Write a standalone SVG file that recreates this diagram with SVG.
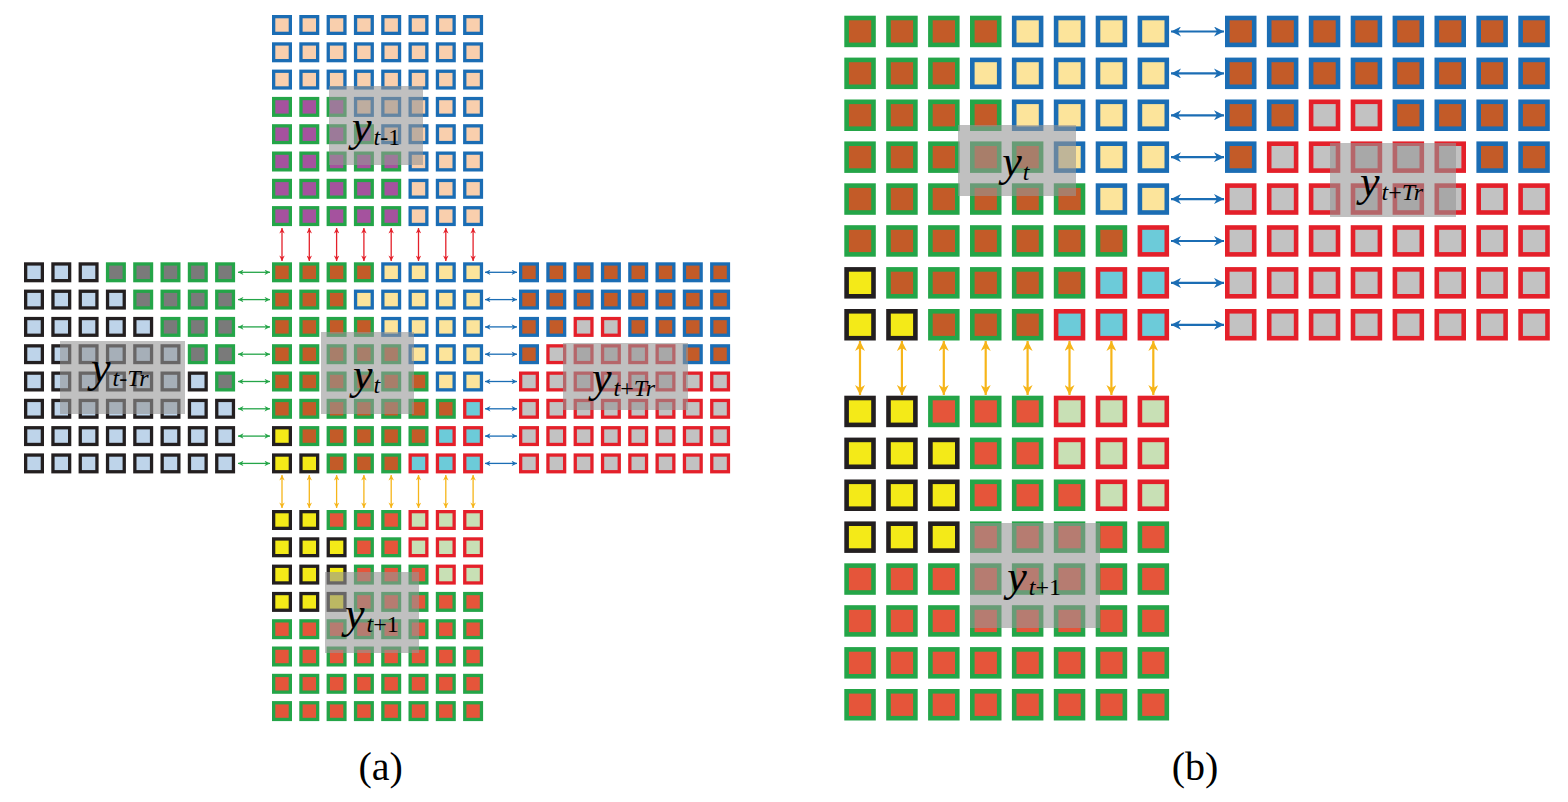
<svg xmlns="http://www.w3.org/2000/svg" xmlns:xlink="http://www.w3.org/1999/xlink" width="1568" height="802" viewBox="0 0 1568 802">
<style>
.Q{fill:#f9cfad;stroke:#1b6db4}
.P{fill:#a5529e;stroke:#24a548}
.G{fill:#c35b28;stroke:#24a548}
.B{fill:#fce49b;stroke:#1b6db4}
.R{fill:#6ccbd9;stroke:#e4202a}
.K{fill:#f4ea18;stroke:#231f20}
.E{fill:#e5553a;stroke:#24a548}
.V{fill:#c8e0b5;stroke:#e4202a}
.L{fill:#bed4ea;stroke:#231f20}
.M{fill:#7a7a7a;stroke:#24a548}
.O{fill:#c35b28;stroke:#1b6db4}
.S{fill:#c2c2c2;stroke:#e4202a}
.ov{fill:#969696;fill-opacity:0.6}
.lab{font-family:"Liberation Serif","Times New Roman",serif;font-size:44px;font-style:italic;fill:#000}
.sub{font-size:24px}
.up{font-style:normal}
.cap{font-family:"Liberation Serif","Times New Roman",serif;font-size:40px;fill:#000;text-anchor:middle}
.ar{fill:none;stroke-width:1.3}
.br{fill:none;stroke-width:2.2}
</style>
<defs>
<rect id="ca" x="1.65" y="1.65" width="16.7" height="16.7" stroke-width="3.3"/>
<rect id="cb" x="2.3" y="2.3" width="26.9" height="26.9" stroke-width="4.6"/>
<marker id="mRed" viewBox="0 0 10 10" refX="10" refY="5" markerWidth="7" markerHeight="5.5" markerUnits="userSpaceOnUse" orient="auto-start-reverse"><path d="M0,0L10,5L0,10L3,5z" fill="#e4202a"/></marker>
<marker id="mOrA" viewBox="0 0 10 10" refX="10" refY="5" markerWidth="7" markerHeight="5.5" markerUnits="userSpaceOnUse" orient="auto-start-reverse"><path d="M0,0L10,5L0,10L3,5z" fill="#f6b519"/></marker>
<marker id="mGrn" viewBox="0 0 10 10" refX="10" refY="5" markerWidth="7" markerHeight="5.5" markerUnits="userSpaceOnUse" orient="auto-start-reverse"><path d="M0,0L10,5L0,10L3,5z" fill="#24a548"/></marker>
<marker id="mBlA" viewBox="0 0 10 10" refX="10" refY="5" markerWidth="7" markerHeight="5.5" markerUnits="userSpaceOnUse" orient="auto-start-reverse"><path d="M0,0L10,5L0,10L3,5z" fill="#1b6db4"/></marker>
<marker id="mOrB" viewBox="0 0 10 10" refX="10" refY="5" markerWidth="11" markerHeight="10" markerUnits="userSpaceOnUse" orient="auto-start-reverse"><path d="M0,0L10,5L0,10L3,5z" fill="#f6b519"/></marker>
<marker id="mBlB" viewBox="0 0 10 10" refX="10" refY="5" markerWidth="11" markerHeight="10" markerUnits="userSpaceOnUse" orient="auto-start-reverse"><path d="M0,0L10,5L0,10L3,5z" fill="#1b6db4"/></marker>
</defs>
<rect width="1568" height="802" fill="#fff"/>

<!-- (a) top grid y_{t-1} -->
<g id="a-top" transform="translate(272,15)">
<g><use href="#ca" class="Q"/><use href="#ca" class="Q" x="27.3"/><use href="#ca" class="Q" x="54.6"/><use href="#ca" class="Q" x="81.9"/><use href="#ca" class="Q" x="109.2"/><use href="#ca" class="Q" x="136.5"/><use href="#ca" class="Q" x="163.8"/><use href="#ca" class="Q" x="191.1"/></g>
<g transform="translate(0,27.3)"><use href="#ca" class="Q"/><use href="#ca" class="Q" x="27.3"/><use href="#ca" class="Q" x="54.6"/><use href="#ca" class="Q" x="81.9"/><use href="#ca" class="Q" x="109.2"/><use href="#ca" class="Q" x="136.5"/><use href="#ca" class="Q" x="163.8"/><use href="#ca" class="Q" x="191.1"/></g>
<g transform="translate(0,54.6)"><use href="#ca" class="Q"/><use href="#ca" class="Q" x="27.3"/><use href="#ca" class="Q" x="54.6"/><use href="#ca" class="Q" x="81.9"/><use href="#ca" class="Q" x="109.2"/><use href="#ca" class="Q" x="136.5"/><use href="#ca" class="Q" x="163.8"/><use href="#ca" class="Q" x="191.1"/></g>
<g transform="translate(0,81.9)"><use href="#ca" class="P"/><use href="#ca" class="P" x="27.3"/><use href="#ca" class="P" x="54.6"/><use href="#ca" class="Q" x="81.9"/><use href="#ca" class="Q" x="109.2"/><use href="#ca" class="Q" x="136.5"/><use href="#ca" class="Q" x="163.8"/><use href="#ca" class="Q" x="191.1"/></g>
<g transform="translate(0,109.2)"><use href="#ca" class="P"/><use href="#ca" class="P" x="27.3"/><use href="#ca" class="P" x="54.6"/><use href="#ca" class="P" x="81.9"/><use href="#ca" class="Q" x="109.2"/><use href="#ca" class="Q" x="136.5"/><use href="#ca" class="Q" x="163.8"/><use href="#ca" class="Q" x="191.1"/></g>
<g transform="translate(0,136.5)"><use href="#ca" class="P"/><use href="#ca" class="P" x="27.3"/><use href="#ca" class="P" x="54.6"/><use href="#ca" class="P" x="81.9"/><use href="#ca" class="P" x="109.2"/><use href="#ca" class="Q" x="136.5"/><use href="#ca" class="Q" x="163.8"/><use href="#ca" class="Q" x="191.1"/></g>
<g transform="translate(0,163.8)"><use href="#ca" class="P"/><use href="#ca" class="P" x="27.3"/><use href="#ca" class="P" x="54.6"/><use href="#ca" class="P" x="81.9"/><use href="#ca" class="P" x="109.2"/><use href="#ca" class="Q" x="136.5"/><use href="#ca" class="Q" x="163.8"/><use href="#ca" class="Q" x="191.1"/></g>
<g transform="translate(0,191.1)"><use href="#ca" class="P"/><use href="#ca" class="P" x="27.3"/><use href="#ca" class="P" x="54.6"/><use href="#ca" class="P" x="81.9"/><use href="#ca" class="P" x="109.2"/><use href="#ca" class="Q" x="136.5"/><use href="#ca" class="Q" x="163.8"/><use href="#ca" class="Q" x="191.1"/></g>
<rect class="ov" x="57" y="71" width="94" height="79"/>
<text class="lab" x="80" y="126">y<tspan class="sub" dx="2" dy="4">t<tspan class="up">-1</tspan></tspan></text>
</g>

<!-- (a) center grid y_t -->
<g id="a-center" transform="translate(272,262.3)">
<g><use href="#ca" class="G"/><use href="#ca" class="G" x="27.3"/><use href="#ca" class="G" x="54.6"/><use href="#ca" class="G" x="81.9"/><use href="#ca" class="B" x="109.2"/><use href="#ca" class="B" x="136.5"/><use href="#ca" class="B" x="163.8"/><use href="#ca" class="B" x="191.1"/></g>
<g transform="translate(0,27.3)"><use href="#ca" class="G"/><use href="#ca" class="G" x="27.3"/><use href="#ca" class="G" x="54.6"/><use href="#ca" class="B" x="81.9"/><use href="#ca" class="B" x="109.2"/><use href="#ca" class="B" x="136.5"/><use href="#ca" class="B" x="163.8"/><use href="#ca" class="B" x="191.1"/></g>
<g transform="translate(0,54.6)"><use href="#ca" class="G"/><use href="#ca" class="G" x="27.3"/><use href="#ca" class="G" x="54.6"/><use href="#ca" class="G" x="81.9"/><use href="#ca" class="B" x="109.2"/><use href="#ca" class="B" x="136.5"/><use href="#ca" class="B" x="163.8"/><use href="#ca" class="B" x="191.1"/></g>
<g transform="translate(0,81.9)"><use href="#ca" class="G"/><use href="#ca" class="G" x="27.3"/><use href="#ca" class="G" x="54.6"/><use href="#ca" class="G" x="81.9"/><use href="#ca" class="G" x="109.2"/><use href="#ca" class="B" x="136.5"/><use href="#ca" class="B" x="163.8"/><use href="#ca" class="B" x="191.1"/></g>
<g transform="translate(0,109.2)"><use href="#ca" class="G"/><use href="#ca" class="G" x="27.3"/><use href="#ca" class="G" x="54.6"/><use href="#ca" class="G" x="81.9"/><use href="#ca" class="G" x="109.2"/><use href="#ca" class="G" x="136.5"/><use href="#ca" class="B" x="163.8"/><use href="#ca" class="B" x="191.1"/></g>
<g transform="translate(0,136.5)"><use href="#ca" class="G"/><use href="#ca" class="G" x="27.3"/><use href="#ca" class="G" x="54.6"/><use href="#ca" class="G" x="81.9"/><use href="#ca" class="G" x="109.2"/><use href="#ca" class="G" x="136.5"/><use href="#ca" class="G" x="163.8"/><use href="#ca" class="R" x="191.1"/></g>
<g transform="translate(0,163.8)"><use href="#ca" class="K"/><use href="#ca" class="G" x="27.3"/><use href="#ca" class="G" x="54.6"/><use href="#ca" class="G" x="81.9"/><use href="#ca" class="G" x="109.2"/><use href="#ca" class="G" x="136.5"/><use href="#ca" class="R" x="163.8"/><use href="#ca" class="R" x="191.1"/></g>
<g transform="translate(0,191.1)"><use href="#ca" class="K"/><use href="#ca" class="K" x="27.3"/><use href="#ca" class="G" x="54.6"/><use href="#ca" class="G" x="81.9"/><use href="#ca" class="G" x="109.2"/><use href="#ca" class="R" x="136.5"/><use href="#ca" class="R" x="163.8"/><use href="#ca" class="R" x="191.1"/></g>
<rect class="ov" x="49" y="69.7" width="93" height="82"/>
<text class="lab" x="81" y="127.2">y<tspan class="sub" dx="1" dy="4">t</tspan></text>
</g>

<!-- (a) bottom grid y_{t+1} -->
<g id="a-bottom" transform="translate(272,510)">
<g><use href="#ca" class="K"/><use href="#ca" class="K" x="27.3"/><use href="#ca" class="E" x="54.6"/><use href="#ca" class="E" x="81.9"/><use href="#ca" class="E" x="109.2"/><use href="#ca" class="V" x="136.5"/><use href="#ca" class="V" x="163.8"/><use href="#ca" class="V" x="191.1"/></g>
<g transform="translate(0,27.3)"><use href="#ca" class="K"/><use href="#ca" class="K" x="27.3"/><use href="#ca" class="K" x="54.6"/><use href="#ca" class="E" x="81.9"/><use href="#ca" class="E" x="109.2"/><use href="#ca" class="V" x="136.5"/><use href="#ca" class="V" x="163.8"/><use href="#ca" class="V" x="191.1"/></g>
<g transform="translate(0,54.6)"><use href="#ca" class="K"/><use href="#ca" class="K" x="27.3"/><use href="#ca" class="K" x="54.6"/><use href="#ca" class="E" x="81.9"/><use href="#ca" class="E" x="109.2"/><use href="#ca" class="E" x="136.5"/><use href="#ca" class="V" x="163.8"/><use href="#ca" class="V" x="191.1"/></g>
<g transform="translate(0,81.9)"><use href="#ca" class="K"/><use href="#ca" class="K" x="27.3"/><use href="#ca" class="K" x="54.6"/><use href="#ca" class="E" x="81.9"/><use href="#ca" class="E" x="109.2"/><use href="#ca" class="E" x="136.5"/><use href="#ca" class="E" x="163.8"/><use href="#ca" class="E" x="191.1"/></g>
<g transform="translate(0,109.2)"><use href="#ca" class="E"/><use href="#ca" class="E" x="27.3"/><use href="#ca" class="E" x="54.6"/><use href="#ca" class="E" x="81.9"/><use href="#ca" class="E" x="109.2"/><use href="#ca" class="E" x="136.5"/><use href="#ca" class="E" x="163.8"/><use href="#ca" class="E" x="191.1"/></g>
<g transform="translate(0,136.5)"><use href="#ca" class="E"/><use href="#ca" class="E" x="27.3"/><use href="#ca" class="E" x="54.6"/><use href="#ca" class="E" x="81.9"/><use href="#ca" class="E" x="109.2"/><use href="#ca" class="E" x="136.5"/><use href="#ca" class="E" x="163.8"/><use href="#ca" class="E" x="191.1"/></g>
<g transform="translate(0,163.8)"><use href="#ca" class="E"/><use href="#ca" class="E" x="27.3"/><use href="#ca" class="E" x="54.6"/><use href="#ca" class="E" x="81.9"/><use href="#ca" class="E" x="109.2"/><use href="#ca" class="E" x="136.5"/><use href="#ca" class="E" x="163.8"/><use href="#ca" class="E" x="191.1"/></g>
<g transform="translate(0,191.1)"><use href="#ca" class="E"/><use href="#ca" class="E" x="27.3"/><use href="#ca" class="E" x="54.6"/><use href="#ca" class="E" x="81.9"/><use href="#ca" class="E" x="109.2"/><use href="#ca" class="E" x="136.5"/><use href="#ca" class="E" x="163.8"/><use href="#ca" class="E" x="191.1"/></g>
<rect class="ov" x="53" y="62" width="94" height="81"/>
<text class="lab" x="73" y="117.5">y<tspan class="sub" dx="2" dy="4">t<tspan class="up">+1</tspan></tspan></text>
</g>

<!-- (a) left grid y_{t-Tr} -->
<g id="a-left" transform="translate(24,262.3)">
<g><use href="#ca" class="L"/><use href="#ca" class="L" x="27.3"/><use href="#ca" class="L" x="54.6"/><use href="#ca" class="M" x="81.9"/><use href="#ca" class="M" x="109.2"/><use href="#ca" class="M" x="136.5"/><use href="#ca" class="M" x="163.8"/><use href="#ca" class="M" x="191.1"/></g>
<g transform="translate(0,27.3)"><use href="#ca" class="L"/><use href="#ca" class="L" x="27.3"/><use href="#ca" class="L" x="54.6"/><use href="#ca" class="L" x="81.9"/><use href="#ca" class="M" x="109.2"/><use href="#ca" class="M" x="136.5"/><use href="#ca" class="M" x="163.8"/><use href="#ca" class="M" x="191.1"/></g>
<g transform="translate(0,54.6)"><use href="#ca" class="L"/><use href="#ca" class="L" x="27.3"/><use href="#ca" class="L" x="54.6"/><use href="#ca" class="L" x="81.9"/><use href="#ca" class="L" x="109.2"/><use href="#ca" class="M" x="136.5"/><use href="#ca" class="M" x="163.8"/><use href="#ca" class="M" x="191.1"/></g>
<g transform="translate(0,81.9)"><use href="#ca" class="L"/><use href="#ca" class="L" x="27.3"/><use href="#ca" class="L" x="54.6"/><use href="#ca" class="L" x="81.9"/><use href="#ca" class="L" x="109.2"/><use href="#ca" class="L" x="136.5"/><use href="#ca" class="M" x="163.8"/><use href="#ca" class="M" x="191.1"/></g>
<g transform="translate(0,109.2)"><use href="#ca" class="L"/><use href="#ca" class="L" x="27.3"/><use href="#ca" class="L" x="54.6"/><use href="#ca" class="L" x="81.9"/><use href="#ca" class="L" x="109.2"/><use href="#ca" class="L" x="136.5"/><use href="#ca" class="L" x="163.8"/><use href="#ca" class="M" x="191.1"/></g>
<g transform="translate(0,136.5)"><use href="#ca" class="L"/><use href="#ca" class="L" x="27.3"/><use href="#ca" class="L" x="54.6"/><use href="#ca" class="L" x="81.9"/><use href="#ca" class="L" x="109.2"/><use href="#ca" class="L" x="136.5"/><use href="#ca" class="L" x="163.8"/><use href="#ca" class="L" x="191.1"/></g>
<g transform="translate(0,163.8)"><use href="#ca" class="L"/><use href="#ca" class="L" x="27.3"/><use href="#ca" class="L" x="54.6"/><use href="#ca" class="L" x="81.9"/><use href="#ca" class="L" x="109.2"/><use href="#ca" class="L" x="136.5"/><use href="#ca" class="L" x="163.8"/><use href="#ca" class="L" x="191.1"/></g>
<g transform="translate(0,191.1)"><use href="#ca" class="L"/><use href="#ca" class="L" x="27.3"/><use href="#ca" class="L" x="54.6"/><use href="#ca" class="L" x="81.9"/><use href="#ca" class="L" x="109.2"/><use href="#ca" class="L" x="136.5"/><use href="#ca" class="L" x="163.8"/><use href="#ca" class="L" x="191.1"/></g>
<rect class="ov" x="36" y="78.7" width="125" height="73"/>
<text class="lab" x="67" y="120.2">y<tspan class="sub" dx="2" dy="4">t<tspan class="up">-</tspan>Tr</tspan></text>
</g>

<!-- (a) right grid y_{t+Tr} -->
<g id="a-right" transform="translate(519,262.3)">
<g><use href="#ca" class="O"/><use href="#ca" class="O" x="27.3"/><use href="#ca" class="O" x="54.6"/><use href="#ca" class="O" x="81.9"/><use href="#ca" class="O" x="109.2"/><use href="#ca" class="O" x="136.5"/><use href="#ca" class="O" x="163.8"/><use href="#ca" class="O" x="191.1"/></g>
<g transform="translate(0,27.3)"><use href="#ca" class="O"/><use href="#ca" class="O" x="27.3"/><use href="#ca" class="O" x="54.6"/><use href="#ca" class="O" x="81.9"/><use href="#ca" class="O" x="109.2"/><use href="#ca" class="O" x="136.5"/><use href="#ca" class="O" x="163.8"/><use href="#ca" class="O" x="191.1"/></g>
<g transform="translate(0,54.6)"><use href="#ca" class="O"/><use href="#ca" class="O" x="27.3"/><use href="#ca" class="S" x="54.6"/><use href="#ca" class="S" x="81.9"/><use href="#ca" class="O" x="109.2"/><use href="#ca" class="O" x="136.5"/><use href="#ca" class="O" x="163.8"/><use href="#ca" class="O" x="191.1"/></g>
<g transform="translate(0,81.9)"><use href="#ca" class="O"/><use href="#ca" class="S" x="27.3"/><use href="#ca" class="S" x="54.6"/><use href="#ca" class="S" x="81.9"/><use href="#ca" class="S" x="109.2"/><use href="#ca" class="S" x="136.5"/><use href="#ca" class="O" x="163.8"/><use href="#ca" class="O" x="191.1"/></g>
<g transform="translate(0,109.2)"><use href="#ca" class="S"/><use href="#ca" class="S" x="27.3"/><use href="#ca" class="S" x="54.6"/><use href="#ca" class="S" x="81.9"/><use href="#ca" class="S" x="109.2"/><use href="#ca" class="S" x="136.5"/><use href="#ca" class="S" x="163.8"/><use href="#ca" class="S" x="191.1"/></g>
<g transform="translate(0,136.5)"><use href="#ca" class="S"/><use href="#ca" class="S" x="27.3"/><use href="#ca" class="S" x="54.6"/><use href="#ca" class="S" x="81.9"/><use href="#ca" class="S" x="109.2"/><use href="#ca" class="S" x="136.5"/><use href="#ca" class="S" x="163.8"/><use href="#ca" class="S" x="191.1"/></g>
<g transform="translate(0,163.8)"><use href="#ca" class="S"/><use href="#ca" class="S" x="27.3"/><use href="#ca" class="S" x="54.6"/><use href="#ca" class="S" x="81.9"/><use href="#ca" class="S" x="109.2"/><use href="#ca" class="S" x="136.5"/><use href="#ca" class="S" x="163.8"/><use href="#ca" class="S" x="191.1"/></g>
<g transform="translate(0,191.1)"><use href="#ca" class="S"/><use href="#ca" class="S" x="27.3"/><use href="#ca" class="S" x="54.6"/><use href="#ca" class="S" x="81.9"/><use href="#ca" class="S" x="109.2"/><use href="#ca" class="S" x="136.5"/><use href="#ca" class="S" x="163.8"/><use href="#ca" class="S" x="191.1"/></g>
<rect class="ov" x="44" y="80.7" width="125" height="67"/>
<text class="lab" x="73" y="130.2">y<tspan class="sub" dx="2" dy="4">t<tspan class="up">+</tspan>Tr</tspan></text>
</g>

<!-- (b) grid y_t -->
<g id="b-center" transform="translate(844.3,15.7)">
<g><use href="#cb" class="G"/><use href="#cb" class="G" x="41.9"/><use href="#cb" class="G" x="83.8"/><use href="#cb" class="G" x="125.7"/><use href="#cb" class="B" x="167.6"/><use href="#cb" class="B" x="209.5"/><use href="#cb" class="B" x="251.4"/><use href="#cb" class="B" x="293.3"/></g>
<g transform="translate(0,41.9)"><use href="#cb" class="G"/><use href="#cb" class="G" x="41.9"/><use href="#cb" class="G" x="83.8"/><use href="#cb" class="B" x="125.7"/><use href="#cb" class="B" x="167.6"/><use href="#cb" class="B" x="209.5"/><use href="#cb" class="B" x="251.4"/><use href="#cb" class="B" x="293.3"/></g>
<g transform="translate(0,83.8)"><use href="#cb" class="G"/><use href="#cb" class="G" x="41.9"/><use href="#cb" class="G" x="83.8"/><use href="#cb" class="G" x="125.7"/><use href="#cb" class="B" x="167.6"/><use href="#cb" class="B" x="209.5"/><use href="#cb" class="B" x="251.4"/><use href="#cb" class="B" x="293.3"/></g>
<g transform="translate(0,125.7)"><use href="#cb" class="G"/><use href="#cb" class="G" x="41.9"/><use href="#cb" class="G" x="83.8"/><use href="#cb" class="G" x="125.7"/><use href="#cb" class="G" x="167.6"/><use href="#cb" class="B" x="209.5"/><use href="#cb" class="B" x="251.4"/><use href="#cb" class="B" x="293.3"/></g>
<g transform="translate(0,167.6)"><use href="#cb" class="G"/><use href="#cb" class="G" x="41.9"/><use href="#cb" class="G" x="83.8"/><use href="#cb" class="G" x="125.7"/><use href="#cb" class="G" x="167.6"/><use href="#cb" class="G" x="209.5"/><use href="#cb" class="B" x="251.4"/><use href="#cb" class="B" x="293.3"/></g>
<g transform="translate(0,209.5)"><use href="#cb" class="G"/><use href="#cb" class="G" x="41.9"/><use href="#cb" class="G" x="83.8"/><use href="#cb" class="G" x="125.7"/><use href="#cb" class="G" x="167.6"/><use href="#cb" class="G" x="209.5"/><use href="#cb" class="G" x="251.4"/><use href="#cb" class="R" x="293.3"/></g>
<g transform="translate(0,251.4)"><use href="#cb" class="K"/><use href="#cb" class="G" x="41.9"/><use href="#cb" class="G" x="83.8"/><use href="#cb" class="G" x="125.7"/><use href="#cb" class="G" x="167.6"/><use href="#cb" class="G" x="209.5"/><use href="#cb" class="R" x="251.4"/><use href="#cb" class="R" x="293.3"/></g>
<g transform="translate(0,293.3)"><use href="#cb" class="K"/><use href="#cb" class="K" x="41.9"/><use href="#cb" class="G" x="83.8"/><use href="#cb" class="G" x="125.7"/><use href="#cb" class="G" x="167.6"/><use href="#cb" class="R" x="209.5"/><use href="#cb" class="R" x="251.4"/><use href="#cb" class="R" x="293.3"/></g>
<rect class="ov" x="113.7" y="109.3" width="118" height="71"/>
<text class="lab" x="158" y="160.8">y<tspan class="sub" dx="1" dy="4">t</tspan></text>
</g>

<!-- (b) grid y_{t+Tr} -->
<g id="b-right" transform="translate(1225,15.7)">
<g><use href="#cb" class="O"/><use href="#cb" class="O" x="41.9"/><use href="#cb" class="O" x="83.8"/><use href="#cb" class="O" x="125.7"/><use href="#cb" class="O" x="167.6"/><use href="#cb" class="O" x="209.5"/><use href="#cb" class="O" x="251.4"/><use href="#cb" class="O" x="293.3"/></g>
<g transform="translate(0,41.9)"><use href="#cb" class="O"/><use href="#cb" class="O" x="41.9"/><use href="#cb" class="O" x="83.8"/><use href="#cb" class="O" x="125.7"/><use href="#cb" class="O" x="167.6"/><use href="#cb" class="O" x="209.5"/><use href="#cb" class="O" x="251.4"/><use href="#cb" class="O" x="293.3"/></g>
<g transform="translate(0,83.8)"><use href="#cb" class="O"/><use href="#cb" class="O" x="41.9"/><use href="#cb" class="S" x="83.8"/><use href="#cb" class="S" x="125.7"/><use href="#cb" class="O" x="167.6"/><use href="#cb" class="O" x="209.5"/><use href="#cb" class="O" x="251.4"/><use href="#cb" class="O" x="293.3"/></g>
<g transform="translate(0,125.7)"><use href="#cb" class="O"/><use href="#cb" class="S" x="41.9"/><use href="#cb" class="S" x="83.8"/><use href="#cb" class="S" x="125.7"/><use href="#cb" class="S" x="167.6"/><use href="#cb" class="S" x="209.5"/><use href="#cb" class="O" x="251.4"/><use href="#cb" class="O" x="293.3"/></g>
<g transform="translate(0,167.6)"><use href="#cb" class="S"/><use href="#cb" class="S" x="41.9"/><use href="#cb" class="S" x="83.8"/><use href="#cb" class="S" x="125.7"/><use href="#cb" class="S" x="167.6"/><use href="#cb" class="S" x="209.5"/><use href="#cb" class="S" x="251.4"/><use href="#cb" class="S" x="293.3"/></g>
<g transform="translate(0,209.5)"><use href="#cb" class="S"/><use href="#cb" class="S" x="41.9"/><use href="#cb" class="S" x="83.8"/><use href="#cb" class="S" x="125.7"/><use href="#cb" class="S" x="167.6"/><use href="#cb" class="S" x="209.5"/><use href="#cb" class="S" x="251.4"/><use href="#cb" class="S" x="293.3"/></g>
<g transform="translate(0,251.4)"><use href="#cb" class="S"/><use href="#cb" class="S" x="41.9"/><use href="#cb" class="S" x="83.8"/><use href="#cb" class="S" x="125.7"/><use href="#cb" class="S" x="167.6"/><use href="#cb" class="S" x="209.5"/><use href="#cb" class="S" x="251.4"/><use href="#cb" class="S" x="293.3"/></g>
<g transform="translate(0,293.3)"><use href="#cb" class="S"/><use href="#cb" class="S" x="41.9"/><use href="#cb" class="S" x="83.8"/><use href="#cb" class="S" x="125.7"/><use href="#cb" class="S" x="167.6"/><use href="#cb" class="S" x="209.5"/><use href="#cb" class="S" x="251.4"/><use href="#cb" class="S" x="293.3"/></g>
<rect class="ov" x="105" y="127.3" width="126" height="74"/>
<text class="lab" x="135" y="180.8">y<tspan class="sub" dx="2" dy="4">t<tspan class="up">+</tspan>Tr</tspan></text>
</g>

<!-- (b) grid y_{t+1} -->
<g id="b-bottom" transform="translate(844.3,395.7)">
<g><use href="#cb" class="K"/><use href="#cb" class="K" x="41.9"/><use href="#cb" class="E" x="83.8"/><use href="#cb" class="E" x="125.7"/><use href="#cb" class="E" x="167.6"/><use href="#cb" class="V" x="209.5"/><use href="#cb" class="V" x="251.4"/><use href="#cb" class="V" x="293.3"/></g>
<g transform="translate(0,41.9)"><use href="#cb" class="K"/><use href="#cb" class="K" x="41.9"/><use href="#cb" class="K" x="83.8"/><use href="#cb" class="E" x="125.7"/><use href="#cb" class="E" x="167.6"/><use href="#cb" class="V" x="209.5"/><use href="#cb" class="V" x="251.4"/><use href="#cb" class="V" x="293.3"/></g>
<g transform="translate(0,83.8)"><use href="#cb" class="K"/><use href="#cb" class="K" x="41.9"/><use href="#cb" class="K" x="83.8"/><use href="#cb" class="E" x="125.7"/><use href="#cb" class="E" x="167.6"/><use href="#cb" class="E" x="209.5"/><use href="#cb" class="V" x="251.4"/><use href="#cb" class="V" x="293.3"/></g>
<g transform="translate(0,125.7)"><use href="#cb" class="K"/><use href="#cb" class="K" x="41.9"/><use href="#cb" class="K" x="83.8"/><use href="#cb" class="E" x="125.7"/><use href="#cb" class="E" x="167.6"/><use href="#cb" class="E" x="209.5"/><use href="#cb" class="E" x="251.4"/><use href="#cb" class="E" x="293.3"/></g>
<g transform="translate(0,167.6)"><use href="#cb" class="E"/><use href="#cb" class="E" x="41.9"/><use href="#cb" class="E" x="83.8"/><use href="#cb" class="E" x="125.7"/><use href="#cb" class="E" x="167.6"/><use href="#cb" class="E" x="209.5"/><use href="#cb" class="E" x="251.4"/><use href="#cb" class="E" x="293.3"/></g>
<g transform="translate(0,209.5)"><use href="#cb" class="E"/><use href="#cb" class="E" x="41.9"/><use href="#cb" class="E" x="83.8"/><use href="#cb" class="E" x="125.7"/><use href="#cb" class="E" x="167.6"/><use href="#cb" class="E" x="209.5"/><use href="#cb" class="E" x="251.4"/><use href="#cb" class="E" x="293.3"/></g>
<g transform="translate(0,251.4)"><use href="#cb" class="E"/><use href="#cb" class="E" x="41.9"/><use href="#cb" class="E" x="83.8"/><use href="#cb" class="E" x="125.7"/><use href="#cb" class="E" x="167.6"/><use href="#cb" class="E" x="209.5"/><use href="#cb" class="E" x="251.4"/><use href="#cb" class="E" x="293.3"/></g>
<g transform="translate(0,293.3)"><use href="#cb" class="E"/><use href="#cb" class="E" x="41.9"/><use href="#cb" class="E" x="83.8"/><use href="#cb" class="E" x="125.7"/><use href="#cb" class="E" x="167.6"/><use href="#cb" class="E" x="209.5"/><use href="#cb" class="E" x="251.4"/><use href="#cb" class="E" x="293.3"/></g>
<rect class="ov" x="125.7" y="127.3" width="130" height="105"/>
<text class="lab" x="163" y="195.8">y<tspan class="sub" dx="2" dy="4">t<tspan class="up">+1</tspan></tspan></text>
</g>

<!-- connectors -->
<g id="connectors">
<g class="ar" stroke="#e4202a" marker-start="url(#mRed)" marker-end="url(#mRed)">
<line x1="282" y1="228" x2="282" y2="261"/><line x1="309.3" y1="228" x2="309.3" y2="261"/><line x1="336.6" y1="228" x2="336.6" y2="261"/><line x1="363.9" y1="228" x2="363.9" y2="261"/><line x1="391.2" y1="228" x2="391.2" y2="261"/><line x1="418.5" y1="228" x2="418.5" y2="261"/><line x1="445.8" y1="228" x2="445.8" y2="261"/><line x1="473.1" y1="228" x2="473.1" y2="261"/>
</g>
<g class="ar" stroke="#f6b519" marker-start="url(#mOrA)" marker-end="url(#mOrA)">
<line x1="282" y1="475" x2="282" y2="508"/><line x1="309.3" y1="475" x2="309.3" y2="508"/><line x1="336.6" y1="475" x2="336.6" y2="508"/><line x1="363.9" y1="475" x2="363.9" y2="508"/><line x1="391.2" y1="475" x2="391.2" y2="508"/><line x1="418.5" y1="475" x2="418.5" y2="508"/><line x1="445.8" y1="475" x2="445.8" y2="508"/><line x1="473.1" y1="475" x2="473.1" y2="508"/>
</g>
<g class="ar" stroke="#24a548" marker-start="url(#mGrn)" marker-end="url(#mGrn)">
<line x1="238" y1="272.3" x2="270" y2="272.3"/><line x1="238" y1="299.6" x2="270" y2="299.6"/><line x1="238" y1="326.9" x2="270" y2="326.9"/><line x1="238" y1="354.2" x2="270" y2="354.2"/><line x1="238" y1="381.5" x2="270" y2="381.5"/><line x1="238" y1="408.8" x2="270" y2="408.8"/><line x1="238" y1="436.1" x2="270" y2="436.1"/><line x1="238" y1="463.4" x2="270" y2="463.4"/>
</g>
<g class="ar" stroke="#1b6db4" marker-start="url(#mBlA)" marker-end="url(#mBlA)">
<line x1="485" y1="272.3" x2="517" y2="272.3"/><line x1="485" y1="299.6" x2="517" y2="299.6"/><line x1="485" y1="326.9" x2="517" y2="326.9"/><line x1="485" y1="354.2" x2="517" y2="354.2"/><line x1="485" y1="381.5" x2="517" y2="381.5"/><line x1="485" y1="408.8" x2="517" y2="408.8"/><line x1="485" y1="436.1" x2="517" y2="436.1"/><line x1="485" y1="463.4" x2="517" y2="463.4"/>
</g>
<g class="br" stroke="#f6b519" marker-start="url(#mOrB)" marker-end="url(#mOrB)">
<line x1="860" y1="341" x2="860" y2="395"/><line x1="901.9" y1="341" x2="901.9" y2="395"/><line x1="943.8" y1="341" x2="943.8" y2="395"/><line x1="985.7" y1="341" x2="985.7" y2="395"/><line x1="1027.6" y1="341" x2="1027.6" y2="395"/><line x1="1069.5" y1="341" x2="1069.5" y2="395"/><line x1="1111.4" y1="341" x2="1111.4" y2="395"/><line x1="1153.3" y1="341" x2="1153.3" y2="395"/>
</g>
<g class="br" stroke="#1b6db4" marker-start="url(#mBlB)" marker-end="url(#mBlB)">
<line x1="1171" y1="31.5" x2="1224" y2="31.5"/><line x1="1171" y1="73.4" x2="1224" y2="73.4"/><line x1="1171" y1="115.3" x2="1224" y2="115.3"/><line x1="1171" y1="157.2" x2="1224" y2="157.2"/><line x1="1171" y1="199.1" x2="1224" y2="199.1"/><line x1="1171" y1="241" x2="1224" y2="241"/><line x1="1171" y1="282.9" x2="1224" y2="282.9"/><line x1="1171" y1="324.8" x2="1224" y2="324.8"/>
</g>
</g>

<text class="cap" x="380.7" y="780">(a)</text>
<text class="cap" x="1195" y="780">(b)</text>
</svg>
